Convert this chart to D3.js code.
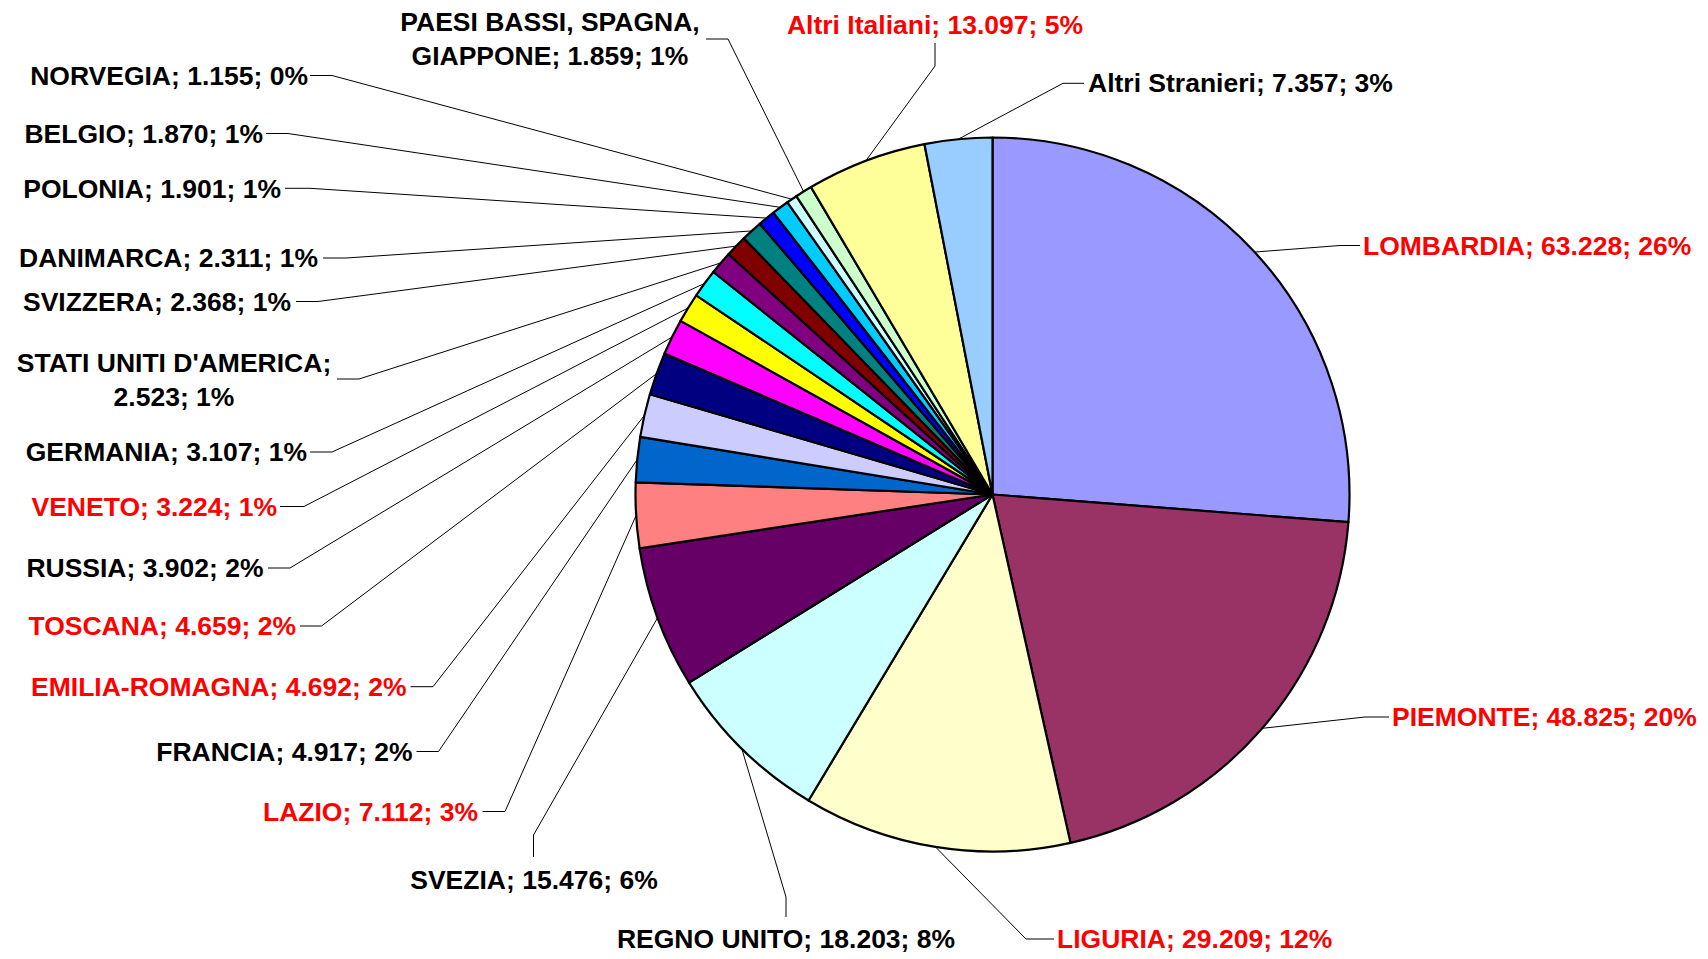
<!DOCTYPE html>
<html>
<head>
<meta charset="utf-8">
<script src="https://cdn.jsdelivr.net/npm/d3@7"></script>
<style>
  html, body { margin: 0; padding: 0; background: #fff; }
  svg { display: block; }
  text { font-family: "Liberation Sans", Arial, sans-serif; font-weight: bold; }
</style>
</head>
<body>
<script>
// Presenze per provenienza (regioni italiane e paesi esteri)
const categories = [
  "LOMBARDIA", "PIEMONTE", "LIGURIA", "REGNO UNITO", "SVEZIA", "LAZIO",
  "FRANCIA", "EMILIA-ROMAGNA", "TOSCANA", "RUSSIA", "VENETO", "GERMANIA",
  "STATI UNITI D'AMERICA", "SVIZZERA", "DANIMARCA", "POLONIA", "BELGIO",
  "NORVEGIA", "PAESI BASSI, SPAGNA, GIAPPONE", "Altri Italiani", "Altri Stranieri"
];
const values = [
  63228, 48825, 29209, 18203, 15476, 7112,
  4917, 4692, 4659, 3902, 3224, 3107,
  2523, 2368, 2311, 1901, 1870,
  1155, 1859, 13097, 7357
];
// provenienze italiane (etichette in rosso)
const italian = [
  true, true, true, false, false, true,
  false, true, true, false, true, false,
  false, false, false, false, false,
  false, false, true, false
];

// palette delle fette
const colors = [
  "#9999FF", "#993366", "#FFFFCC", "#CCFFFF", "#660066", "#FF8080",
  "#0066CC", "#CCCCFF", "#000080", "#FF00FF", "#FFFF00", "#00FFFF",
  "#800080", "#800000", "#008080", "#0000FF", "#00CCFF",
  "#CCFFFF", "#CCFFCC", "#FFFF99", "#99CCFF"
];

// posizione delle etichette: testo (x, y centro), allineamento,
// punto di attacco al testo (tip) e gomito del richiamo (knee)
const labelLayout = [
  { x: 1363, y: 245.5, anchor: "start",  tip: [1360, 245.5], knee: [1340, 245.5] },
  { x: 1392, y: 717,   anchor: "start",  tip: [1389, 717],   knee: [1365, 717] },
  { x: 1057, y: 939,   anchor: "start",  tip: [1054, 939],   knee: [1026, 939] },
  { x: 786,  y: 939,   anchor: "middle", tip: [786, 917],    knee: [786, 897] },
  { x: 534,  y: 880,   anchor: "middle", tip: [533.5, 857],  knee: [533.5, 835] },
  { x: 478,  y: 811.3, anchor: "end",    tip: [482.5, 811.5],knee: [505, 811.5] },
  { x: 412.5,y: 751.3, anchor: "end",    tip: [416.5, 751.5],knee: [438.5, 751.5] },
  { x: 406.5,y: 686.7, anchor: "end",    tip: [410.5, 686.7],knee: [433, 686.7] },
  { x: 296,  y: 626,   anchor: "end",    tip: [300, 626],    knee: [321.5, 626] },
  { x: 263.5,y: 567.5, anchor: "end",    tip: [268, 568],    knee: [290, 568] },
  { x: 277,  y: 506.5, anchor: "end",    tip: [280, 506.5],  knee: [304, 506.5] },
  { x: 307,  y: 452,   anchor: "end",    tip: [310, 452],    knee: [332, 452] },
  { x: 174,  y: 379.7, anchor: "middle", tip: [337, 379],    knee: [359, 379], breakAfter: "AMERICA;", gap: 34 },
  { x: 291,  y: 301.5, anchor: "end",    tip: [296, 301.5],  knee: [318, 301.5] },
  { x: 318,  y: 258,   anchor: "end",    tip: [323, 258],    knee: [346, 258] },
  { x: 281,  y: 188.3, anchor: "end",    tip: [285, 188.3],  knee: [310, 188.3] },
  { x: 263,  y: 133.5, anchor: "end",    tip: [266, 133.5],  knee: [288, 133.5] },
  { x: 308,  y: 75.5,  anchor: "end",    tip: [310, 75.5],   knee: [332, 75.5] },
  { x: 550,  y: 38.3,  anchor: "middle", tip: [706, 39],     knee: [728, 39], breakAfter: "SPAGNA,", gap: 34.5 },
  { x: 935,  y: 24.8,  anchor: "middle", tip: [935, 43],     knee: [935, 66] },
  { x: 1088, y: 83,    anchor: "start",  tip: [1084, 83.3],  knee: [1063, 83.3] }
];

const W = 1708, H = 959;
const cx = 992.5, cy = 494.5, R = 357;
const fontSize = 26.5;
const capHalf = fontSize * 0.358;

const data = categories.map((name, i) => ({ name, value: values[i], italian: italian[i], i }));
const total = d3.sum(values);
const fmtNum = d3.formatLocale({ decimal: ",", thousands: ".", grouping: [3], currency: ["€", ""] }).format(",d");

const svg = d3.select("body").append("svg")
  .attr("width", W).attr("height", H)
  .attr("viewBox", `0 0 ${W} ${H}`);

svg.append("rect").attr("width", W).attr("height", H).attr("fill", "#fff");

const pie = d3.pie().sort(null).value(d => d.value).startAngle(0).endAngle(2 * Math.PI);
const arcs = pie(data);
const arc = d3.arc().innerRadius(0).outerRadius(R);

const g = svg.append("g").attr("transform", `translate(${cx},${cy})`);

g.selectAll("path.slice")
  .data(arcs)
  .join("path")
  .attr("class", "slice")
  .attr("d", arc)
  .attr("fill", d => colors[d.index])
  .attr("stroke", "#000")
  .attr("stroke-width", 2.2)
  .attr("stroke-linejoin", "round");

// linee di richiamo: dal bordo della fetta (angolo medio) al testo
const leaders = svg.append("g").attr("fill", "none").attr("stroke", "#000").attr("stroke-width", 1);
arcs.forEach(d => {
  const L = labelLayout[d.index];
  const a = (d.startAngle + d.endAngle) / 2;
  const edge = [cx + R * Math.sin(a), cy - R * Math.cos(a)];
  leaders.append("path")
    .attr("d", d3.line()([edge, L.knee, L.tip]));
});

// etichette
const labels = svg.append("g").attr("font-size", fontSize);
arcs.forEach(d => {
  const L = labelLayout[d.index];
  const pct = Math.round(d.data.value / total * 100);
  const full = `${d.data.name}; ${fmtNum(d.data.value)}; ${pct}%`;
  let lines = [full];
  if (L.breakAfter) {
    const k = full.indexOf(L.breakAfter) + L.breakAfter.length;
    lines = [full.slice(0, k), full.slice(k).trim()];
  }
  const gap = L.gap || 0;
  const t = labels.append("text")
    .attr("text-anchor", L.anchor)
    .attr("fill", d.data.italian ? "#FF0000" : "#000");
  lines.forEach((ln, j) => {
    const yc = L.y + (j - (lines.length - 1) / 2) * gap;
    t.append("tspan").attr("x", L.x).attr("y", yc + capHalf).text(ln);
  });
});
</script>
</body>
</html>
